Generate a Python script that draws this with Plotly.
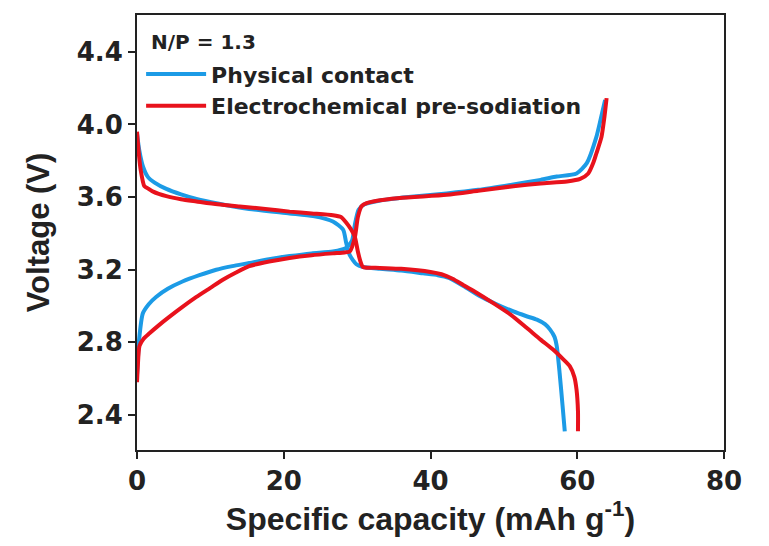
import plotly.graph_objects as go

# Galvanostatic charge/discharge profiles (capacity in mAh/g, voltage in V)
pc_charge_cap = [0.0, 0.3, 0.8, 1.6, 2.6, 4.2, 6.2, 8.5, 10.8, 13.0, 15.3, 18.0, 20.8, 23.8, 26.7, 28.5,
                 29.3, 29.7, 30.2, 31.0, 33.0, 37.0, 42.2, 46.5, 51.3, 55.0, 57.2, 59.9, 61.3, 62.6, 63.2, 63.8]
pc_charge_v = [2.62, 2.82, 2.96, 3.01, 3.05, 3.095, 3.135, 3.17, 3.20, 3.22, 3.237, 3.258, 3.275, 3.29, 3.30, 3.32,
               3.36, 3.45, 3.53, 3.56, 3.58, 3.60, 3.62, 3.64, 3.67, 3.695, 3.713, 3.73, 3.787, 3.93, 4.03, 4.135]

pc_dis_cap = [0.0, 0.3, 0.8, 1.5, 2.4, 4.0, 6.0, 8.1, 11.0, 15.3, 20.8, 24.0, 26.7, 28.1, 28.5, 29.0, 29.9, 30.8,
              33.1, 36.0, 39.0, 41.0, 42.5, 44.5, 46.7, 49.0, 51.3, 53.0, 54.5, 55.6, 56.3, 56.9, 57.2, 57.6, 58.0, 58.3]
pc_dis_v = [3.95, 3.86, 3.77, 3.71, 3.68, 3.645, 3.615, 3.59, 3.565, 3.535, 3.51, 3.495, 3.466, 3.42, 3.35, 3.28, 3.23, 3.215,
            3.205, 3.195, 3.18, 3.17, 3.155, 3.11, 3.055, 3.01, 2.97, 2.945, 2.925, 2.90, 2.87, 2.83, 2.78, 2.63, 2.45, 2.31]

ep_charge_cap = [0.0, 0.1, 0.34, 0.9, 1.7, 3.0, 4.4, 6.2, 8.1, 10.0, 11.7, 13.5, 15.3, 18.0, 20.8, 23.8, 26.7, 28.3,
                 29.0, 29.7, 30.1, 30.6, 31.3, 32.2, 35.8, 42.2, 46.5, 51.3, 55.0, 58.6, 60.4, 61.5, 62.2, 62.6, 63.3, 63.7, 64.0]
ep_charge_v = [2.58, 2.66, 2.78, 2.82, 2.85, 2.895, 2.94, 2.995, 3.05, 3.10, 3.145, 3.185, 3.22, 3.245, 3.265, 3.28, 3.29, 3.295,
               3.30, 3.38, 3.49, 3.55, 3.567, 3.576, 3.595, 3.613, 3.635, 3.66, 3.675, 3.686, 3.70, 3.73, 3.79, 3.84, 3.93, 4.04, 4.145]

ep_dis_cap = [0.0, 0.2, 0.5, 1.0, 1.6, 2.2, 4.0, 6.0, 8.1, 11.0, 14.0, 17.5, 20.8, 23.8, 26.7, 27.8, 28.5, 29.2, 29.7, 30.1,
              30.5, 30.8, 33.1, 36.0, 40.0, 41.5, 43.0, 44.5, 46.0, 48.5, 51.0, 53.1, 55.0, 56.7, 58.0, 59.0, 59.6, 59.9, 60.1, 60.1]
ep_dis_v = [3.96, 3.86, 3.75, 3.66, 3.645, 3.63, 3.605, 3.588, 3.576, 3.56, 3.548, 3.535, 3.52, 3.51, 3.50, 3.49, 3.46, 3.42, 3.38, 3.30,
            3.24, 3.215, 3.21, 3.205, 3.188, 3.175, 3.15, 3.115, 3.08, 3.017, 2.95, 2.88, 2.815, 2.76, 2.71, 2.668, 2.61, 2.54, 2.42, 2.31]

series = [
    ("Physical contact", "#1c9be6", pc_charge_cap, pc_charge_v, pc_dis_cap, pc_dis_v),
    ("Electrochemical pre-sodiation", "#e8121c", ep_charge_cap, ep_charge_v, ep_dis_cap, ep_dis_v),
]

x_ticks = [0, 20, 40, 60, 80]
y_ticks = [2.4, 2.8, 3.2, 3.6, 4.0, 4.4]
cell_label = "N/P = 1.3"

fig = go.Figure()
for name, color, cc, cv, dc, dv in series:
    # charge and discharge branches joined into one trace, separated by a gap
    fig.add_trace(go.Scatter(
        x=cc + [None] + dc,
        y=cv + [None] + dv,
        mode="lines",
        name=name,
        legendgroup=name,
        line=dict(color=color, width=4, shape="spline", smoothing=0.6),
        connectgaps=False,
    ))

tick_family = "DejaVu Sans, sans-serif"
title_family = "Liberation Sans, Arial, sans-serif"
ink = "#222"

axis_common = dict(
    showline=True, linewidth=2, linecolor=ink, mirror=True,
    ticks="outside", ticklen=7, tickwidth=2, tickcolor=ink,
    showgrid=False, zeroline=False,
    tickfont=dict(family=tick_family, size=26, color=ink, weight="bold"),
)

fig.add_annotation(
    text=cell_label, xref="paper", yref="paper", x=0.02, y=0.938,
    xanchor="left", yanchor="middle", showarrow=False,
    font=dict(family=tick_family, size=20, color=ink, weight="bold"),
)

fig.update_layout(
    width=769, height=546,
    margin=dict(l=137, r=45, t=15, b=96),
    paper_bgcolor="white", plot_bgcolor="white",
    font=dict(family=tick_family, color=ink),
    xaxis=dict(range=[0, 80], tickvals=x_ticks,
               title=dict(text="Specific capacity (mAh g<sup>-1</sup>)",
                          font=dict(family=title_family, size=32, color=ink, weight="bold"), standoff=0),
               **axis_common),
    yaxis=dict(range=[2.207, 4.603], tickvals=y_ticks, tickformat=".1f",
               title=dict(text="Voltage (V)",
                          font=dict(family=title_family, size=31, color=ink, weight="bold"), standoff=18),
               **axis_common),
    legend=dict(
        x=0.007, y=0.912, xanchor="left", yanchor="top",
        bgcolor="rgba(0,0,0,0)",
        font=dict(family=tick_family, size=22, color=ink, weight="bold"),
        itemwidth=60, tracegroupgap=0,
    ),
)

fig.write_html("out.html")
